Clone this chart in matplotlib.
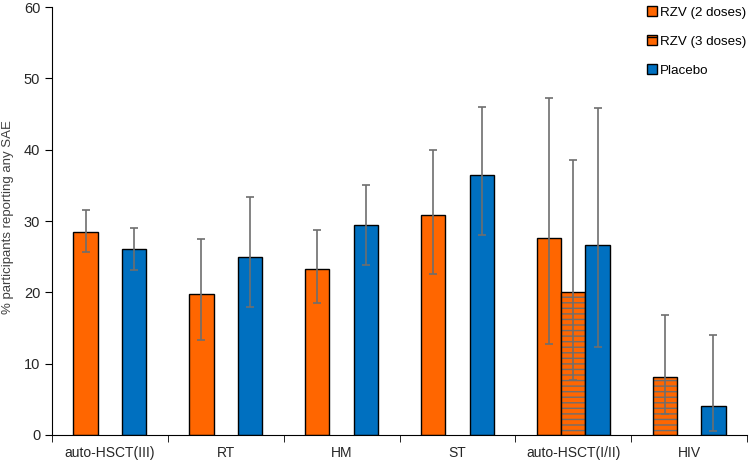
import matplotlib
matplotlib.use("Agg")

import matplotlib.pyplot as plt
import numpy as np
from matplotlib.patches import Patch

plt.rcParams["font.family"] = ["Liberation Sans", "DejaVu Sans"]

# ── Data ──────────────────────────────────────────────────────────────────────

categories = ["auto-HSCT(III)", "RT", "HM", "ST", "auto-HSCT(I/II)", "HIV"]

# RZV 2 doses (None = no bar)
rzv2 = [28.5, 19.7, 23.3, 30.8, 27.6, None]
rzv2_lo = [25.6, 13.3, 18.5, 22.6, 12.7, None]
rzv2_hi = [31.6, 27.5, 28.7, 40.0, 47.2, None]

# RZV 3 doses
rzv3 = [None, None, None, None, 20.0, 8.1]
rzv3_lo = [None, None, None, None, 7.7, 3.0]
rzv3_hi = [None, None, None, None, 38.6, 16.8]

placebo = [26.1, 25.0, 29.4, 36.5, 26.7, 4.1]
placebo_lo = [23.2, 18.0, 23.8, 28.0, 12.4, 0.6]
placebo_hi = [29.0, 33.3, 35.1, 46.0, 45.9, 14.0]

ORANGE = "#FF6600"
BLUE = "#0070C0"
ERR = "#6E6E6E"
TXT = "#262626"
W = 0.21

fig = plt.figure(figsize=(7.49, 4.65), dpi=100)
ax = fig.add_axes([52 / 749, 1 - 435 / 465, 695 / 749, 428 / 465])


def _draw(xs, vals, lo, hi, color, hatched=False):
    for x, v, l, h in zip(xs, vals, lo, hi):
        if v is None:
            continue
        if hatched:
            ax.bar(x, v, W, color=color, edgecolor=ERR, hatch="---", linewidth=0, zorder=2)
            ax.bar(x, v, W, facecolor="none", edgecolor="black", linewidth=1, zorder=2)
        else:
            ax.bar(x, v, W, color=color, edgecolor="black", linewidth=1, zorder=2)
        ax.errorbar(x, v, yerr=[[v - l], [h - v]], fmt="none", ecolor=ERR,
                    elinewidth=1.2, capsize=3, capthick=1.2, zorder=3)


idx = np.arange(len(categories))
# placement of the bars inside each group
rzv2_x = idx - W
placebo_x = idx + W
rzv3_x = np.array([i if rzv2[i] is not None else i - W for i in idx], dtype=float)

_draw(rzv2_x, rzv2, rzv2_lo, rzv2_hi, ORANGE)
_draw(rzv3_x, rzv3, rzv3_lo, rzv3_hi, ORANGE, hatched=True)
_draw(placebo_x, placebo, placebo_lo, placebo_hi, BLUE)

ax.set_xlim(-0.5, len(categories) - 0.5)
ax.set_ylim(0, 60)
ax.set_yticks(np.arange(0, 61, 10))
ax.set_xticks(idx)
ax.set_xticklabels(categories)
ax.set_xticks(np.arange(-0.5, len(categories)), minor=True)
ax.tick_params(axis="x", which="major", length=0, labelsize=10, pad=8, labelcolor=TXT)
ax.tick_params(axis="x", which="minor", length=5, direction="out")
ax.tick_params(axis="y", labelsize=10.5, length=5, direction="out", labelcolor=TXT)

for s in ("top", "right"):
    ax.spines[s].set_visible(False)
ax.set_ylabel("% participants reporting any SAE", fontsize=9.5, color="#404040")
ax.yaxis.set_label_coords(-0.054, 0.51)

handles = [
    Patch(facecolor=ORANGE, edgecolor="black", label="RZV (2 doses)"),
    Patch(facecolor=ORANGE, edgecolor="black", hatch="--", label="RZV (3 doses)"),
    Patch(facecolor=BLUE, edgecolor="black", label="Placebo"),
]
fig.legend(handles=handles, loc="upper left", bbox_to_anchor=(647 / 749, 1 - 6 / 465),
           frameon=False, fontsize=9.6, handlelength=0.75, handleheight=0.75,
           handletextpad=0.25, labelspacing=1.25, borderaxespad=0, borderpad=0)

fig.savefig("out.png", dpi=100)
